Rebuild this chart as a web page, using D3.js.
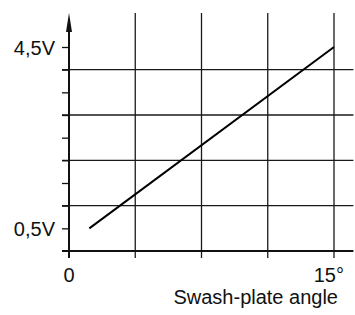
<!DOCTYPE html>
<html>
<head>
<meta charset="utf-8">
<script src="https://cdn.jsdelivr.net/npm/d3@7"></script>
<style>
  body { margin: 0; background: #fff; }
  text { font-family: "Liberation Sans", Arial, sans-serif; fill: #111; }
</style>
</head>
<body>
<script>
// chart data
var angle = [1.15, 15];          // swash-plate angle, degrees
var voltage = [0.5, 4.5];        // output, V
var xGrid = [3.75, 7.5, 11.25, 15];
var yGrid = [1, 2, 3, 4];
var yTicks = [0.5, 1, 1.5, 2, 2.5, 3, 3.5, 4, 4.5];
var yLabels = {0.5: "0,5V", 4.5: "4,5V"};
var xLabels = [{v: 0, t: "0"}, {v: 15, t: "15°"}];
var xTitle = "Swash-plate angle";

var w = 355, h = 315;
var svg = d3.select("body").append("svg").attr("width", w).attr("height", h);

// scales
var x = d3.scaleLinear().domain([0, 15]).range([69, 334]);
var y = d3.scaleLinear().domain([0, 4.5]).range([251, 47]);
var xEnd = 16.1, yTop = 5.25, tick = 7;

// horizontal grid
svg.selectAll(".hgrid").data(yGrid).enter().append("line")
  .attr("x1", x(0) - tick).attr("x2", x(xEnd))
  .attr("y1", function (d) { return y(d); }).attr("y2", function (d) { return y(d); })
  .attr("stroke", "#1a1a1a").attr("stroke-width", 1.3);

// vertical grid
svg.selectAll(".vgrid").data(xGrid).enter().append("line")
  .attr("x1", function (d) { return x(d); }).attr("x2", function (d) { return x(d); })
  .attr("y1", y(yTop)).attr("y2", y(0) + tick)
  .attr("stroke", "#1a1a1a").attr("stroke-width", 1.3);

// y axis with half-volt ticks
var yAxis = d3.axisLeft(y).tickValues(yTicks).tickSize(tick)
  .tickFormat(function (d) { return yLabels[d] || ""; });
var gy = svg.append("g").attr("transform", "translate(" + x(0) + ",0)").call(yAxis);
gy.select(".domain").remove();
gy.selectAll("line").attr("stroke", "#111").attr("stroke-width", 1.3);
gy.selectAll("text").attr("x", -14).attr("dy", "0.36em")
  .style("font-size", "20px").style("font-family", "Liberation Sans, Arial, sans-serif").attr("fill", "#111");

// axis lines
svg.append("line").attr("x1", x(0)).attr("x2", x(0))
  .attr("y1", y(yTop) + 10).attr("y2", y(0) + tick)
  .attr("stroke", "#111").attr("stroke-width", 2);
svg.append("line").attr("x1", x(0) - tick).attr("x2", x(xEnd))
  .attr("y1", y(0)).attr("y2", y(0))
  .attr("stroke", "#111").attr("stroke-width", 1.8);

// arrow head
var ax = x(0), ay = y(yTop);
svg.append("path")
  .attr("d", "M" + ax + "," + ay + "L" + (ax + 3) + "," + (ay + 19) + "L" + (ax - 3) + "," + (ay + 19) + "Z")
  .attr("fill", "#111");

// x labels
svg.selectAll(".xl").data(xLabels).enter().append("text")
  .attr("x", function (d) { return d.v === 0 ? x(d.v) : x(d.v) + 10; })
  .attr("y", 282)
  .attr("text-anchor", function (d) { return d.v === 0 ? "middle" : "end"; })
  .style("font-size", "20px")
  .text(function (d) { return d.t; });

svg.append("text").attr("x", 338).attr("y", 304)
  .attr("text-anchor", "end").style("font-size", "20px").text(xTitle);

// data line
var pts = angle.map(function (a, i) { return [a, voltage[i]]; });
svg.append("path").datum(pts)
  .attr("d", d3.line().x(function (d) { return x(d[0]); }).y(function (d) { return y(d[1]); }))
  .attr("fill", "none").attr("stroke", "#000").attr("stroke-width", 2);
</script>
</body>
</html>
